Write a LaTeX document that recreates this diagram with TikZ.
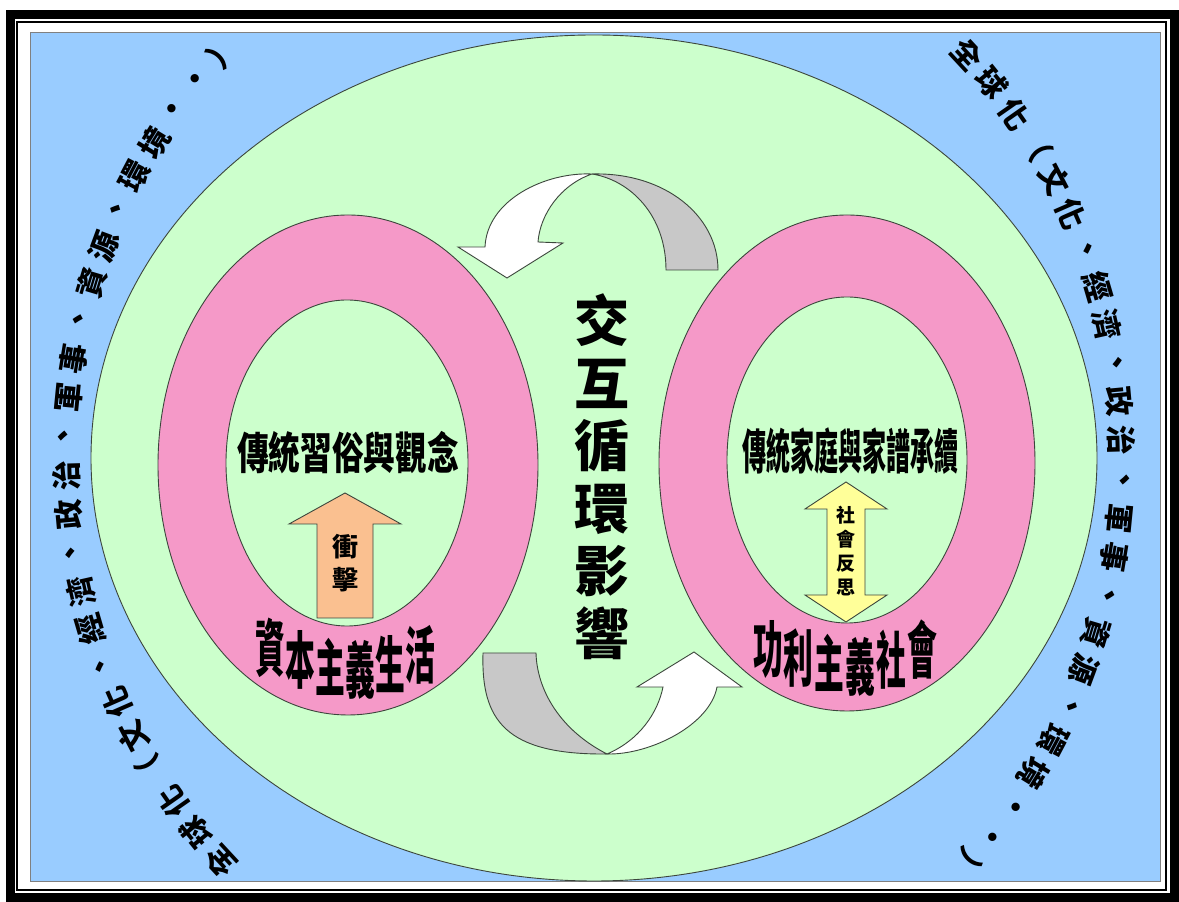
\documentclass[tikz,border=0pt]{standalone}
\usepackage{fontspec}
\newfontfamily\cjk{Noto Sans CJK TC}
\usetikzlibrary{calc}
\definecolor{bgblue}{RGB}{153,204,255}
\definecolor{lgreen}{RGB}{204,255,204}
\definecolor{rpink}{RGB}{245,153,200}
\definecolor{apeach}{RGB}{250,192,144}
\definecolor{ayellow}{RGB}{255,255,153}
\definecolor{agray}{RGB}{200,200,200}
\definecolor{edgec}{RGB}{60,70,60}
\begin{document}
\begin{tikzpicture}[x=1pt,y=1pt,
  outl/.style={draw=edgec, line width=0.9},
  cjkfs/.style 2 args={font=\cjk\bfseries\fontsize{#1}{#2}\selectfont, inner sep=0pt},
  arcchar/.style={cjkfs={30}{30}},
  pinkchar/.style={cjkfs={62}{62}},
]
\useasboundingbox (0,0) rectangle (1179,902);
\fill[white] (0,0) rectangle (1179,902);
% frame
\draw[line width=9] (10,887.5) rectangle (1174.5,4.5);
\draw[line width=2.3] (17.3,880) rectangle (1166,12);
\draw[draw=gray, line width=1, fill=bgblue] (30,20) rectangle (1160,869);
% big green ellipse
\draw[outl, fill=lgreen] (594,444) ellipse [x radius=503, y radius=423];
% rings
\draw[outl, fill=rpink] (348,437) ellipse [x radius=190, y radius=250];
\draw[outl, fill=lgreen] (347,439) ellipse [x radius=121, y radius=163];
\draw[outl, fill=rpink] (847,439) ellipse [x radius=188, y radius=248];
\draw[outl, fill=lgreen] (847,442) ellipse [x radius=120, y radius=163];
% top curved arrow
\draw[outl, fill=agray] (666,632) -- (718,632) .. controls (718,686) and (665,730) .. (592,728) .. controls (630,722) and (666,687) .. (666,632) -- cycle;
\draw[outl, fill=white] (592,728) .. controls (545,730) and (487,702) .. (485,655) -- (458,655) -- (507,624) -- (563,659) -- (538,660) .. controls (540,687) and (560,717) .. (592,728) -- cycle;
% bottom curved arrow
\draw[outl, fill=agray] (483,249) -- (536,249) .. controls (537,212) and (560,172) .. (607,148) .. controls (505,147) and (481,182) .. (483,249) -- cycle;
\draw[outl, fill=white] (607,148) .. controls (650,147) and (710,177) .. (717,215) -- (742,215) -- (694,250) -- (637,215) -- (663,215) .. controls (658,190) and (640,162) .. (607,148) -- cycle;
% inner arrows
\draw[outl, fill=apeach] (317,284) -- (317,378) -- (289,378) -- (345,409) -- (401,378) -- (373,378) -- (373,284) -- cycle;
\draw[outl, fill=ayellow] (846,420) -- (887,393) -- (865,393) -- (865,307) -- (887,307) -- (846,280) -- (805,307) -- (827,307) -- (827,393) -- (805,393) -- cycle;
% texts
\node[cjkfs={55}{62.5}, align=center] (center) at (602,425.5) {交\\互\\循\\環\\影\\響};
\node[cjkfs={44}{44}] (tradL) at (348,449) {\scalebox{0.72}[1]{傳統習俗與觀念}};
\node[cjkfs={48}{48}] (tradR) at (850,451) {\scalebox{0.5}[1]{傳統家庭與家譜承續}};
\node[cjkfs={26}{33}, align=center] (impact) at (345,338.5) {衝\\擊};
\node[cjkfs={19}{24}, align=center] (reflect) at (846,351) {社\\會\\反\\思};
\foreach \ch/\px/\py [count=\i] in {資/270/254, 本/300/242, 主/330/235, 義/360/232, 生/390/238, 活/420/247}
  \node[pinkchar] (capL\i) at (\px,\py) {\scalebox{0.48}[1]{\ch}};
\foreach \ch/\px/\py [count=\i] in {功/768/252, 利/798/244, 主/829/239, 義/860/235, 社/891/242, 會/922/252}
  \node[pinkchar] (capR\i) at (\px,\py) {\scalebox{0.48}[1]{\ch}};
% arc texts
\foreach \side/\off in {R/0, L/180}{
  \foreach \ch [count=\i from 0] in {全,球,化,（,文,化,、,經,濟,、,政,治,、,軍,事,、,資,源,、,環,境,・,・,）}{
    \pgfmathsetmacro\ang{45+\off-3.93*\i}
    \pgfmathsetmacro\rotang{atan2(-570*cos(\ang),528*sin(\ang))}
    \node[arcchar, rotate=\rotang] (arc\side\i) at ($(594,444)+(\ang:528 and 570)$) {\ch};
  }
}
\end{tikzpicture}
\end{document}
